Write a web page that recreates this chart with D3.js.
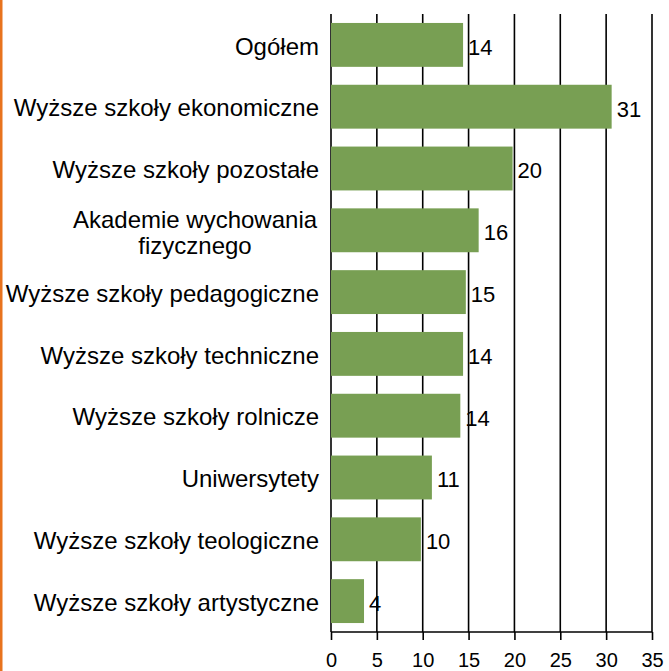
<!DOCTYPE html>
<html>
<head>
<meta charset="utf-8">
<script src="https://cdn.jsdelivr.net/npm/d3@7"></script>
<style>
  body { margin: 0; background: #fff; }
  svg { display: block; font-family: 'Liberation Sans', Arial, sans-serif; }
</style>
</head>
<body>
<div id="graf"></div>
<script>
const categories = [
  'Ogółem',
  'Wyższe szkoły ekonomiczne',
  'Wyższe szkoły pozostałe',
  'Akademie wychowania|fizycznego',
  'Wyższe szkoły pedagogiczne',
  'Wyższe szkoły techniczne',
  'Wyższe szkoły rolnicze',
  'Uniwersytety',
  'Wyższe szkoły teologiczne',
  'Wyższe szkoły artystyczne',
]
const values = [14.4, 30.6, 19.8, 16.1, 14.7, 14.4, 14.1, 11.0, 9.8, 3.6]
const ticks = [0, 5, 10, 15, 20, 25, 30, 35]

const anchoTotal = 669
const altoTotal = 671
const margin = { top: 14, right: 17, bottom: 39, left: 331 }
const ancho = anchoTotal - margin.left - margin.right
const alto = altoTotal - margin.top - margin.bottom

const svg = d3
  .select('#graf')
  .append('svg')
  .attr('width', anchoTotal)
  .attr('height', altoTotal)

// orange frame on the left
svg
  .append('rect')
  .attr('x', 0)
  .attr('y', 0)
  .attr('width', 2.5)
  .attr('height', altoTotal)
  .attr('fill', '#e8731e')

const g = svg
  .append('g')
  .attr('transform', `translate(${margin.left}, ${margin.top})`)

const x = d3.scaleLinear().domain([0, 35]).range([0, ancho])
const y = d3.scaleBand().domain(categories).range([0, alto]).paddingInner(0.29).paddingOuter(0.145)

// gridlines
g.selectAll('.grid')
  .data(ticks)
  .join('line')
  .attr('x1', (d) => x(d))
  .attr('x2', (d) => x(d))
  .attr('y1', 0)
  .attr('y2', alto)
  .attr('stroke', '#000')
  .attr('stroke-width', 1.6)

// bars
g.selectAll('.bar')
  .data(values)
  .join('rect')
  .attr('x', x(0))
  .attr('y', (d, i) => y(categories[i]))
  .attr('width', (d) => x(d) - x(0))
  .attr('height', y.bandwidth())
  .attr('fill', '#789f53')

// value labels
g.selectAll('.val')
  .data(values)
  .join('text')
  .attr('x', (d) => x(d) + 5)
  .attr('y', (d, i) => y(categories[i]) + y.bandwidth() / 2)
  .attr('dy', '0.45em')
  .attr('font-size', 22)
  .text((d) => Math.round(d))

// category labels
const cat = g
  .selectAll('.cat')
  .data(categories)
  .join('text')
  .attr('font-size', 24)
  .attr('fill', '#000')
cat.each(function (d) {
  const lines = d.split('|')
  const t = d3.select(this)
  const cy = y(d) + y.bandwidth() / 2
  if (lines.length === 1) {
    t.attr('x', -12).attr('y', cy).attr('dy', '0.4em').attr('text-anchor', 'end').text(d)
  } else {
    const cx = -136
    t.attr('text-anchor', 'middle')
    lines.forEach((l, i) => {
      t.append('tspan')
        .attr('x', cx)
        .attr('y', cy + 2 + (i - (lines.length - 1) / 2) * 26)
        .attr('dy', '0.36em')
        .text(l)
    })
  }
})

// axes
const xAxis = g
  .append('g')
  .attr('transform', `translate(0, ${alto})`)
  .call(d3.axisBottom(x).tickValues(ticks).tickSize(8).tickPadding(13))
xAxis.select('.domain').attr('stroke-width', 1.6).attr('d', `M0,0H${ancho}`)
xAxis.selectAll('.tick line').attr('stroke-width', 1.6)
xAxis.selectAll('text').attr('font-size', 20).attr('font-family', 'Liberation Sans, Arial, sans-serif').attr('fill', '#000')
</script>
</body>
</html>
